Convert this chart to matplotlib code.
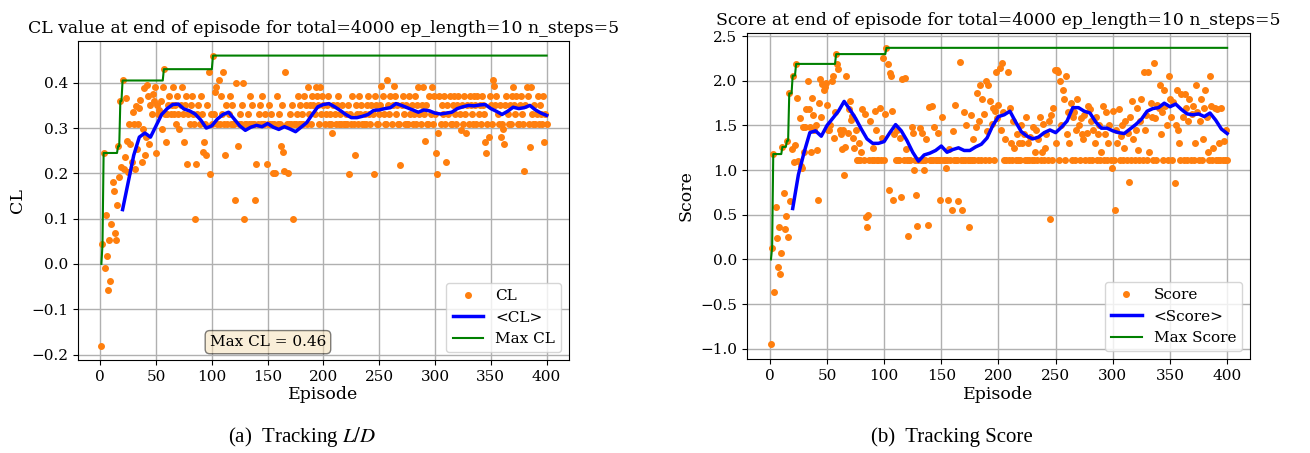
import numpy as np
import matplotlib
matplotlib.use("Agg")
from matplotlib import pyplot as plt

plt.rcParams['font.family'] = ['DejaVu Serif']
plt.rcParams['mathtext.fontset'] = 'stix'

# CL at the end of each episode (episodes 1..400)
cl = [
    -0.182, 0.043, 0.245, -0.01, 0.108, 0.017, -0.057, 0.054, -0.037, 0.088,
    0.182, 0.162, 0.068, 0.054, 0.13, 0.26, 0.191, 0.36, 0.215, 0.405,
    0.21, 0.236, 0.366, 0.272, 0.202, 0.309, 0.265, 0.226, 0.335, 0.31,
    0.21, 0.348, 0.253, 0.31, 0.345, 0.362, 0.225, 0.298, 0.389, 0.24,
    0.28, 0.395, 0.37, 0.265, 0.35, 0.33, 0.375, 0.36, 0.39, 0.245,
    0.35, 0.33, 0.34, 0.36, 0.298, 0.39, 0.43, 0.33, 0.27, 0.33,
    0.35, 0.37, 0.33, 0.35, 0.39, 0.33, 0.35, 0.308, 0.37, 0.33,
    0.298, 0.35, 0.39, 0.33, 0.269, 0.35, 0.37, 0.221, 0.33, 0.308,
    0.35, 0.37, 0.33, 0.308, 0.099, 0.221, 0.33, 0.35, 0.308, 0.37,
    0.33, 0.247, 0.269, 0.308, 0.241, 0.35, 0.423, 0.199, 0.33, 0.308,
    0.46, 0.33, 0.38, 0.39, 0.308, 0.405, 0.308, 0.37, 0.33, 0.423,
    0.308, 0.241, 0.35, 0.308, 0.33, 0.37, 0.308, 0.35, 0.308, 0.308,
    0.141, 0.40, 0.261, 0.308, 0.33, 0.308, 0.35, 0.40, 0.099, 0.308,
    0.308, 0.33, 0.308, 0.37, 0.308, 0.35, 0.308, 0.308, 0.141, 0.221,
    0.308, 0.33, 0.35, 0.308, 0.37, 0.308, 0.308, 0.33, 0.221, 0.308,
    0.35, 0.308, 0.33, 0.308, 0.2, 0.308, 0.2, 0.37, 0.308, 0.33,
    0.308, 0.261, 0.35, 0.247, 0.206, 0.423, 0.308, 0.2, 0.308, 0.33,
    0.308, 0.35, 0.099, 0.308, 0.308, 0.33, 0.37, 0.308, 0.35, 0.308,
    0.33, 0.308, 0.37, 0.35, 0.308, 0.39, 0.33, 0.35, 0.308, 0.37,
    0.35, 0.33, 0.39, 0.37, 0.35, 0.308, 0.39, 0.33, 0.37, 0.35,
    0.308, 0.33, 0.35, 0.37, 0.308, 0.33, 0.308, 0.289, 0.35, 0.33,
    0.308, 0.35, 0.37, 0.308, 0.33, 0.308, 0.35, 0.308, 0.308, 0.33,
    0.308, 0.35, 0.199, 0.33, 0.308, 0.37, 0.308, 0.241, 0.35, 0.33,
    0.308, 0.37, 0.33, 0.35, 0.308, 0.308, 0.33, 0.308, 0.35, 0.37,
    0.33, 0.308, 0.35, 0.33, 0.199, 0.37, 0.35, 0.308, 0.308, 0.33,
    0.35, 0.392, 0.37, 0.33, 0.308, 0.308, 0.405, 0.35, 0.33, 0.37,
    0.308, 0.35, 0.392, 0.37, 0.33, 0.35, 0.308, 0.308, 0.219, 0.35,
    0.37, 0.33, 0.308, 0.35, 0.308, 0.308, 0.37, 0.33, 0.35, 0.308,
    0.33, 0.37, 0.308, 0.35, 0.39, 0.33, 0.308, 0.35, 0.39, 0.33,
    0.272, 0.35, 0.308, 0.308, 0.37, 0.33, 0.39, 0.308, 0.37, 0.33,
    0.245, 0.199, 0.289, 0.37, 0.308, 0.35, 0.33, 0.37, 0.308, 0.225,
    0.35, 0.33, 0.37, 0.308, 0.308, 0.35, 0.37, 0.33, 0.308, 0.35,
    0.37, 0.33, 0.295, 0.35, 0.308, 0.37, 0.33, 0.289, 0.35, 0.308,
    0.37, 0.35, 0.33, 0.308, 0.37, 0.35, 0.308, 0.37, 0.33, 0.35,
    0.308, 0.37, 0.35, 0.33, 0.269, 0.245, 0.308, 0.28, 0.37, 0.35,
    0.308, 0.405, 0.392, 0.35, 0.37, 0.33, 0.308, 0.35, 0.28, 0.308,
    0.298, 0.265, 0.35, 0.37, 0.33, 0.308, 0.35, 0.308, 0.37, 0.39,
    0.35, 0.33, 0.37, 0.308, 0.308, 0.35, 0.37, 0.33, 0.308, 0.206,
    0.35, 0.39, 0.37, 0.308, 0.259, 0.39, 0.33, 0.308, 0.35, 0.308,
    0.33, 0.37, 0.308, 0.35, 0.33, 0.308, 0.37, 0.269, 0.33, 0.308,
]

# running mean <CL>, read every 5 episodes from episode 20 on
cl_avg = [
    0.12, 0.18, 0.24, 0.28, 0.289, 0.28, 0.305, 0.33, 0.343, 0.352,
    0.353, 0.342, 0.338, 0.331, 0.318, 0.30, 0.305, 0.32, 0.33, 0.335,
    0.32, 0.305, 0.295, 0.302, 0.306, 0.303, 0.31, 0.302, 0.297, 0.303,
    0.298, 0.292, 0.302, 0.312, 0.33, 0.347, 0.352, 0.354, 0.347, 0.339,
    0.33, 0.323, 0.323, 0.326, 0.33, 0.339, 0.34, 0.343, 0.345, 0.354,
    0.35, 0.345, 0.34, 0.335, 0.34, 0.338, 0.333, 0.331, 0.333, 0.335,
    0.343, 0.347, 0.35, 0.349, 0.351, 0.352, 0.343, 0.337, 0.33, 0.337,
    0.346, 0.343, 0.345, 0.35, 0.34, 0.333, 0.328,
]

# score at the end of each episode (episodes 1..400)
score = [
    -0.95, 0.13, 1.18, -0.37, 0.59, 0.24, -0.08, 0.36, -0.16, 0.07,
    1.26, 0.74, 0.34, 0.49, 1.33, 0.25, 1.86, 0.65, 1.24, 2.06,
    1.09, 1.28, 2.19, 1.81, 1.1, 1.58, 1.05, 1.02, 1.48, 1.2,
    1.48, 1.69, 2.0, 1.68, 1.48, 1.2, 1.81, 1.62, 1.45, 1.5,
    1.22, 0.67, 1.75, 2.02, 1.6, 1.96, 1.9, 1.93, 1.98, 1.73,
    1.45, 1.45, 1.5, 2.0, 2.06, 1.36, 1.65, 2.3, 2.19, 2.13,
    1.45, 1.4, 1.24, 1.45, 0.95, 1.26, 2.06, 1.42, 1.69, 1.78,
    1.56, 1.61, 1.36, 1.25, 1.45, 1.11, 1.11, 1.3, 1.11, 1.2,
    1.68, 1.11, 1.63, 0.48, 0.36, 0.5, 1.11, 1.55, 1.11, 1.25,
    1.11, 1.66, 1.45, 1.11, 1.11, 1.7, 1.11, 1.36, 2.26, 1.11,
    1.63, 2.37, 2.19, 0.78, 2.09, 2.06, 1.66, 0.66, 1.4, 1.11,
    1.45, 1.11, 1.11, 1.36, 0.70, 2.02, 1.11, 2.03, 1.24, 1.11,
    0.26, 1.11, 1.11, 1.48, 1.42, 1.0, 1.11, 0.72, 0.37, 1.11,
    1.47, 1.11, 1.42, 1.11, 1.0, 1.11, 1.35, 0.38, 1.71, 1.11,
    1.11, 1.72, 1.11, 1.48, 1.11, 1.11, 1.42, 1.11, 0.66, 1.11,
    1.6, 1.11, 1.11, 1.02, 1.11, 0.66, 1.24, 1.11, 0.55, 1.44,
    1.11, 1.73, 1.11, 1.11, 0.65, 2.21, 1.11, 0.55, 1.11, 1.65,
    1.11, 1.5, 1.11, 0.36, 1.11, 1.62, 1.11, 1.35, 1.11, 1.48,
    1.86, 1.11, 1.55, 1.95, 1.11, 1.8, 1.63, 1.11, 2.0, 1.44,
    1.95, 1.11, 1.78, 1.52, 1.70, 1.11, 1.66, 2.1, 1.58, 1.73,
    2.14, 1.45, 2.2, 1.65, 1.11, 1.35, 1.11, 2.1, 1.11, 1.7,
    1.3, 1.11, 1.55, 1.25, 1.11, 1.4, 1.11, 1.3, 1.11, 1.5,
    1.3, 1.4, 1.11, 1.6, 1.11, 1.3, 1.11, 1.37, 1.11, 1.48,
    1.11, 1.2, 1.45, 1.11, 1.35, 1.6, 1.11, 1.2, 1.52, 1.11,
    1.25, 1.4, 1.11, 1.55, 0.45, 1.62, 1.11, 1.7, 2.12, 1.3,
    2.12, 2.1, 1.11, 2.0, 1.5, 1.9, 1.8, 1.11, 2.05, 1.4,
    1.65, 1.3, 1.75, 1.11, 1.6, 1.65, 1.11, 1.45, 1.8, 1.5,
    1.11, 1.58, 1.4, 1.35, 1.62, 1.11, 1.42, 1.72, 1.11, 1.68,
    1.55, 1.11, 1.45, 1.3, 1.6, 1.11, 1.4, 1.5, 1.11, 1.2,
    1.72, 1.11, 1.4, 1.65, 1.11, 1.3, 1.5, 1.11, 1.02, 1.66,
    1.11, 0.55, 1.45, 1.3, 1.68, 1.11, 1.38, 1.5, 1.11, 1.25,
    1.55, 1.11, 1.42, 0.87, 1.6, 1.11, 1.78, 1.35, 1.11, 1.45,
    1.7, 1.22, 1.11, 1.55, 1.8, 1.11, 2.1, 1.45, 1.62, 1.11,
    2.1, 1.2, 1.75, 1.6, 1.11, 2.2, 1.58, 1.11, 1.73, 1.7,
    1.95, 1.4, 1.65, 1.11, 1.9, 1.72, 1.5, 1.11, 2.05, 1.8,
    1.6, 1.11, 1.76, 0.86, 1.5, 1.9, 1.45, 1.3, 1.11, 1.85,
    1.6, 1.11, 1.85, 1.7, 1.11, 1.55, 1.8, 1.11, 1.63, 1.72,
    1.11, 1.3, 1.95, 1.65, 1.11, 1.55, 1.8, 1.11, 1.35, 1.7,
    1.9, 1.6, 1.2, 1.11, 2.05, 1.72, 1.11, 1.25, 1.7, 1.11,
    1.68, 1.11, 1.3, 1.11, 1.7, 1.11, 1.33, 1.11, 1.45, 1.11,
]

# running mean <Score>, read every 5 episodes from episode 20 on
score_avg = [
    0.57, 0.95, 1.2, 1.42, 1.44, 1.38, 1.5, 1.58, 1.66, 1.77,
    1.68, 1.58, 1.46, 1.35, 1.30, 1.30, 1.32, 1.42, 1.51, 1.44,
    1.33, 1.2, 1.1, 1.17, 1.19, 1.22, 1.27, 1.2, 1.23, 1.25,
    1.22, 1.22, 1.26, 1.29, 1.36, 1.50, 1.6, 1.62, 1.66, 1.54,
    1.43, 1.38, 1.35, 1.37, 1.42, 1.45, 1.42, 1.48, 1.55, 1.7,
    1.70, 1.66, 1.64, 1.54, 1.47, 1.47, 1.44, 1.42, 1.41, 1.46,
    1.51, 1.57, 1.66, 1.69, 1.70, 1.75, 1.71, 1.74, 1.68, 1.63,
    1.62, 1.63, 1.60, 1.64, 1.56, 1.46, 1.41,
]

episodes = np.arange(1, len(cl) + 1)
avg_ep = np.arange(20, 401, 5)

fig = plt.figure(figsize=(13.1, 4.53), dpi=100)
ax1 = fig.add_axes([0.0595, 0.2053, 0.3748, 0.704])
ax2 = fig.add_axes([0.5702, 0.2075, 0.384, 0.7196])

panels = [
    (ax1, cl, cl_avg, 'CL', 'CL value at end of episode for total=4000 ep_length=10 n_steps=5'),
    (ax2, score, score_avg, 'Score', 'Score at end of episode for total=4000 ep_length=10 n_steps=5'),
]

for ax, vals, avg, name, title in panels:
    vals = np.array(vals)
    # running max, starting from 0
    vmax = np.maximum.accumulate(np.r_[0.0, vals])[1:]
    ax.plot(episodes, vals, 'o', color='#ff7f0e', ms=4, label=name)
    ax.plot(avg_ep, avg, color='b', lw=2.5, label='<' + name + '>')
    ax.plot(episodes, vmax, color='g', lw=1.5, label='Max ' + name)
    ax.set_xlim(-20, 420)
    ax.set_xticks(np.arange(0, 401, 50))
    ax.grid(True, color='#b0b0b0', lw=1.0)
    ax.set_axisbelow(True)
    ax.set_title(title, fontsize=12.4)
    ax.set_xlabel('Episode', fontsize=12.5, labelpad=2)
    ax.set_ylabel(name, fontsize=12.5)
    ax.tick_params(labelsize=11)
    ax.legend(loc='lower right', fontsize=11)

ax1.set_ylim(-0.212, 0.492)
ax2.set_ylim(-1.116, 2.536)

ax1.text(0.387, 0.056, 'Max CL = %.2f' % max(cl), transform=ax1.transAxes,
         ha='center', va='center', fontsize=11,
         bbox=dict(boxstyle='round', facecolor='wheat', alpha=0.5))

fig.text(302 / 1310, 1 - 437 / 453, '(a)  Tracking $L/D$', ha='center', va='center',
         fontsize=15, family='Liberation Serif')
fig.text(952 / 1310, 1 - 437 / 453, '(b)  Tracking Score', ha='center', va='center',
         fontsize=15, family='Liberation Serif')

fig.savefig('out.png', dpi=100)
